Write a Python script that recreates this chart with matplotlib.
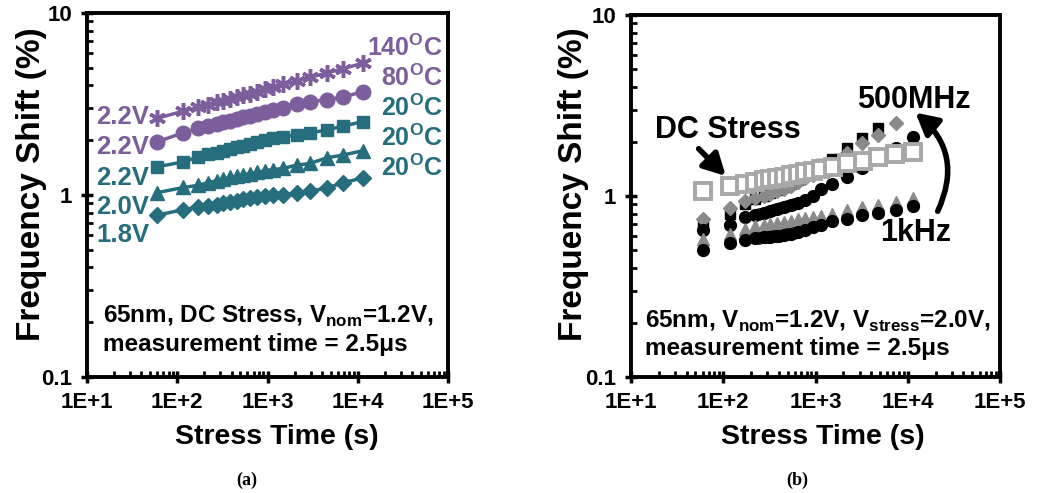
import matplotlib
matplotlib.use("Agg")
import matplotlib.pyplot as plt
from matplotlib.ticker import FixedLocator, FixedFormatter, LogLocator, NullFormatter
from matplotlib.patches import FancyArrowPatch

plt.rcParams['font.family'] = ['Liberation Sans', 'DejaVu Sans']
plt.rcParams['font.weight'] = 'bold'
plt.rcParams['mathtext.fontset'] = 'custom'
plt.rcParams['mathtext.rm'] = 'Liberation Sans:bold'
plt.rcParams['mathtext.bf'] = 'Liberation Sans:bold'

# ---- panel (a) data: DC stress, different voltage / temperature ----
t_a = [60, 117, 171, 221, 274, 324, 385, 456, 541, 640, 759, 938, 1159, 1496, 2103, 2956, 4525, 6926, 11350]
a_22v_140c = [2.64, 2.89, 3.03, 3.13, 3.23, 3.30, 3.38, 3.45, 3.53, 3.61, 3.70, 3.80, 3.91, 4.05, 4.23, 4.43, 4.68, 4.95, 5.30]
a_22v_80c = [1.96, 2.20, 2.32, 2.40, 2.46, 2.51, 2.56, 2.62, 2.67, 2.73, 2.79, 2.86, 2.93, 3.02, 3.18, 3.26, 3.34, 3.45, 3.70]
a_22v_20c = [1.43, 1.52, 1.62, 1.67, 1.71, 1.75, 1.79, 1.83, 1.87, 1.91, 1.96, 2.01, 2.05, 2.09, 2.14, 2.19, 2.28, 2.39, 2.53]
a_20v_20c = [1.03, 1.10, 1.13, 1.17, 1.20, 1.22, 1.25, 1.27, 1.29, 1.31, 1.33, 1.36, 1.38, 1.40, 1.46, 1.49, 1.60, 1.66, 1.75]
a_18v_20c = [0.776, 0.83, 0.855, 0.87, 0.885, 0.90, 0.915, 0.93, 0.945, 0.96, 0.975, 0.99, 1.0, 1.0, 1.03, 1.05, 1.09, 1.17, 1.24]

volt_labels = ["2.2V", "2.2V", "2.2V", "2.0V", "1.8V"]
temp_labels = ["140$^{\\mathbf{O}}$C", "80$^{\\mathbf{O}}$C", "20$^{\\mathbf{O}}$C",
               "20$^{\\mathbf{O}}$C", "20$^{\\mathbf{O}}$C"]

# ---- panel (b) data: AC stress at several frequencies ----
t_b = [60, 118, 170, 220, 275, 325, 385, 455, 540, 640, 760, 940, 1160, 1500, 2180, 3160, 4780, 7400, 11500]
dc_t = [60, 118, 170, 220, 275, 325, 385, 455, 540, 640, 760, 940, 1160, 1550, 2200, 3300, 4800, 7300, 11500]
dc_stress = [1.06, 1.13, 1.16, 1.20, 1.22, 1.24, 1.26, 1.28, 1.30, 1.32, 1.35, 1.38, 1.41, 1.45, 1.52, 1.57, 1.64, 1.71, 1.76]
b_square = [0.71, 0.80, 0.90, 0.96, 1.0, 1.04, 1.08, 1.12, 1.17, 1.23, 1.30, 1.40, 1.50, 1.61, 1.85, 2.08, 2.37]
b_diamond = [0.75, 0.855, 0.94, 0.97, 1.0, 1.03, 1.06, 1.10, 1.14, 1.19, 1.25, 1.31, 1.38, 1.45, 1.72, 1.97, 2.17, 2.54]
b_circle_hi = [0.65, 0.69, 0.77, 0.79, 0.81, 0.83, 0.85, 0.87, 0.89, 0.92, 0.95, 1.0, 1.10, 1.17, 1.27, 1.42, 1.61, 1.84, 2.13]
b_triangle = [0.58, 0.62, 0.66, 0.68, 0.69, 0.70, 0.71, 0.72, 0.73, 0.745, 0.76, 0.77, 0.78, 0.80, 0.84, 0.87, 0.89, 0.93, 0.98]
b_circle_lo = [0.50, 0.55, 0.57, 0.585, 0.59, 0.595, 0.60, 0.61, 0.62, 0.63, 0.645, 0.67, 0.69, 0.73, 0.75, 0.785, 0.81, 0.84, 0.88]
w_t = [245, 295, 350, 415, 495, 585]
b_white_hi = [0.80, 0.82, 0.84, 0.86, 0.88, 0.905]
b_white_lo = [0.587, 0.592, 0.598, 0.605, 0.615, 0.625]

purple = "#7B5E9B"
teal = "#266E7D"
gray = "#8A8A8A"
lgray = "#A8A8A8"

fig = plt.figure(figsize=(10.37, 4.93), dpi=100)
ax1 = fig.add_axes([87 / 1037, 116 / 493, 361 / 1037, 364 / 493])
ax2 = fig.add_axes([631 / 1037, 116 / 493, 369 / 1037, 362 / 493])


def style_axes(ax):
    ax.set_xscale("log")
    ax.set_yscale("log")
    ax.set_xlim(10, 1e5)
    ax.set_ylim(0.1, 10)
    for s in ax.spines.values():
        s.set_linewidth(2.8)
    ax.xaxis.set_major_locator(FixedLocator([1e1, 1e2, 1e3, 1e4, 1e5]))
    ax.xaxis.set_major_formatter(FixedFormatter(["1E+1", "1E+2", "1E+3", "1E+4", "1E+5"]))
    ax.yaxis.set_major_locator(FixedLocator([0.1, 1, 10]))
    ax.yaxis.set_major_formatter(FixedFormatter(["0.1", "1", "10"]))
    ax.xaxis.set_minor_locator(LogLocator(base=10, subs=range(2, 10)))
    ax.yaxis.set_minor_locator(LogLocator(base=10, subs=range(2, 10)))
    ax.xaxis.set_minor_formatter(NullFormatter())
    ax.yaxis.set_minor_formatter(NullFormatter())
    ax.tick_params(which="major", direction="inout", length=9, width=2.5, labelsize=16, pad=6)
    ax.tick_params(which="minor", direction="in", length=4, width=2)
    ax.set_xlabel("Stress Time (s)", fontsize=20.5, fontweight="bold")
    ax.set_ylabel("Frequency Shift (%)", fontsize=24, fontweight="bold")
    for lab in ax.get_xticklabels() + ax.get_yticklabels():
        lab.set_fontweight("bold")


# ---- panel (a) ----
style_axes(ax1)
ax1.plot(t_a, a_22v_140c, color=purple, marker=(6, 2, 0), ms=12, mew=2.5, lw=2.5)
ax1.plot(t_a, a_22v_80c, color=purple, marker="o", ms=10.5, lw=2.5)
ax1.plot(t_a, a_22v_20c, color=teal, marker="s", ms=9, lw=2.5)
ax1.plot(t_a, a_20v_20c, color=teal, marker="^", ms=10, lw=2.5)
ax1.plot(t_a, a_18v_20c, color=teal, marker="D", ms=8.5, lw=2.5)

label_colors = [purple, purple, teal, teal, teal]
left_y = [0.715, 0.633, 0.547, 0.467, 0.390]
right_y = [0.904, 0.821, 0.739, 0.657, 0.574]
for lab, c, y in zip(volt_labels, label_colors, left_y):
    ax1.text(0.172, y, lab, transform=ax1.transAxes, color=c, fontsize=18.5,
             fontweight="bold", ha="right", va="center")
for lab, c, y in zip(temp_labels, label_colors, right_y):
    ax1.text(0.985, y, lab, transform=ax1.transAxes, color=c, fontsize=18,
             fontweight="bold", ha="right", va="center")

ax1.text(0.043, 0.166, "65nm, DC Stress, V$_{\\mathbf{nom}}$=1.2V,", transform=ax1.transAxes,
         fontsize=17.5, fontweight="bold", va="center")
ax1.text(0.043, 0.088, "measurement time = 2.5\u03bcs", transform=ax1.transAxes,
         fontsize=17.5, fontweight="bold", va="center")

# ---- panel (b) ----
style_axes(ax2)
ax2.plot(t_b[:len(b_square)], b_square, ls="none", marker="s", ms=7.5, color="black")
ax2.plot(t_b[:len(b_diamond)], b_diamond, ls="none", marker="D", ms=7.5, color=gray)
ax2.plot(w_t, b_white_hi, ls="none", marker="o", ms=8, mfc="white", mec="black", mew=1)
ax2.plot(t_b, b_circle_hi, ls="none", marker="o", ms=8.5, color="black")
ax2.plot(t_b, b_triangle, ls="none", marker="^", ms=9, color=gray)
ax2.plot(w_t, b_white_lo, ls="none", marker="o", ms=8, mfc="white", mec="black", mew=1)
ax2.plot(t_b, b_circle_lo, ls="none", marker="o", ms=8.5, color="black")
ax2.plot(dc_t, dc_stress, ls="none", marker="s", ms=12, mfc="white", mec=lgray, mew=2.8)

ax2.text(0.038, 0.153, "65nm, V$_{\\mathbf{nom}}$=1.2V, V$_{\\mathbf{stress}}$=2.0V,", transform=ax2.transAxes,
         fontsize=17.5, fontweight="bold", va="center")
ax2.text(0.038, 0.080, "measurement time = 2.5\u03bcs", transform=ax2.transAxes,
         fontsize=17.5, fontweight="bold", va="center")
ax2.text(0.065, 0.682, "DC Stress", transform=ax2.transAxes, fontsize=22,
         fontweight="bold", va="center")
ax2.text(0.612, 0.765, "500MHz", transform=ax2.transAxes, fontsize=22,
         fontweight="bold", va="center")
ax2.text(0.675, 0.398, "1kHz", transform=ax2.transAxes, fontsize=22,
         fontweight="bold", va="center")

ax2.add_patch(FancyArrowPatch((0.178, 0.636), (0.262, 0.550), transform=ax2.transAxes,
                              arrowstyle="-|>,head_length=13,head_width=7", lw=4,
                              color="black", mutation_scale=1))
ax2.add_patch(FancyArrowPatch((0.828, 0.451), (0.765, 0.735), transform=ax2.transAxes,
                              connectionstyle="arc3,rad=0.4",
                              arrowstyle="-|>,head_length=13,head_width=7", lw=4,
                              color="black", mutation_scale=1))

ax1.xaxis.set_label_coords(0.525, -0.128)
ax1.yaxis.set_label_coords(-0.112, 0.53)
ax2.xaxis.set_label_coords(0.52, -0.13)
ax2.yaxis.set_label_coords(-0.115, 0.534)

fig.text(247 / 1037, 1 - 480 / 493, "(a)", family="Liberation Serif", fontsize=13,
         fontweight="bold", ha="center", va="center")
fig.text(797 / 1037, 1 - 480 / 493, "(b)", family="Liberation Serif", fontsize=13,
         fontweight="bold", ha="center", va="center")

fig.savefig("out.png", dpi=100)
